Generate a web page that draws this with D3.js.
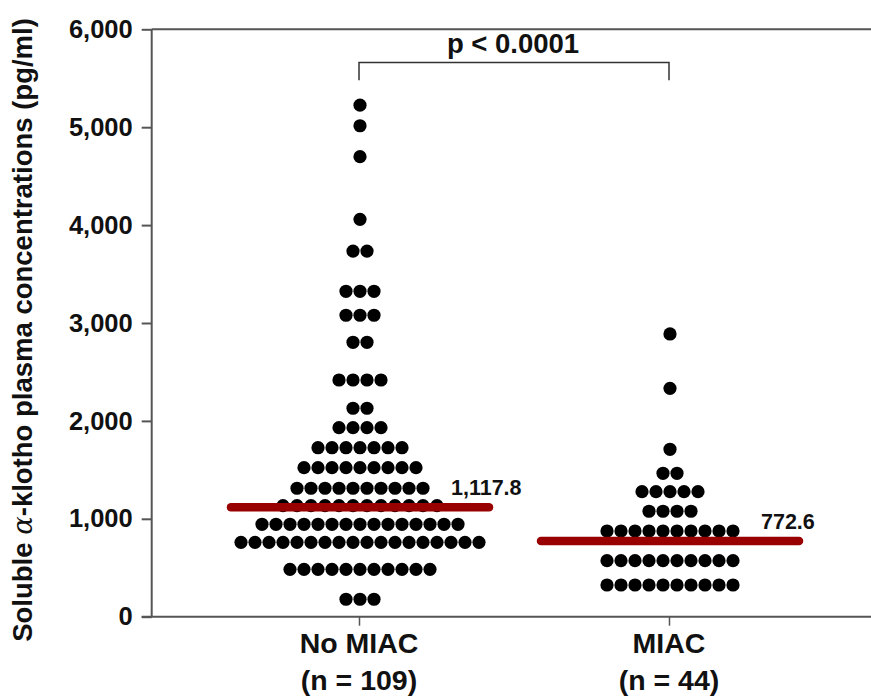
<!DOCTYPE html>
<html>
<head>
<meta charset="utf-8">
<script src="https://cdn.jsdelivr.net/npm/d3@7"></script>
<style>
  html, body { margin: 0; padding: 0; background: #fff; }
  svg { display: block; }
  text { font-family: "Liberation Sans", Arial, Helvetica, sans-serif; font-weight: bold; fill: #111; }
</style>
</head>
<body>
<svg id="chart" width="871" height="700"></svg>
<script>
// ---- Data ----
const categories = ["No MIAC", "MIAC"];
const categoryN = ["(n = 109)", "(n = 44)"];
const yTicks = [0, 1000, 2000, 3000, 4000, 5000, 6000];
const noMiacValues = [
  5225, 5015, 4699, 4059,
  3735, 3735,
  3324, 3324, 3324,
  3079, 3079, 3079,
  2803, 2803,
  2418, 2418, 2418, 2418,
  2129, 2129,
  1931, 1931, 1931, 1931,
  1726, 1726, 1726, 1726, 1726, 1726, 1726,
  1522, 1522, 1522, 1522, 1522, 1522, 1522, 1522, 1522,
  1312, 1312, 1312, 1312, 1312, 1312, 1312, 1312, 1312, 1312,
  1134, 1134, 1134, 1134, 1134, 1134, 1134, 1134, 1134, 1134, 1134, 1134,
  944, 944, 944, 944, 944, 944, 944, 944, 944, 944, 944, 944, 944, 944, 944,
  760, 760, 760, 760, 760, 760, 760, 760, 760, 760, 760, 760, 760, 760, 760, 760, 760, 760,
  484, 484, 484, 484, 484, 484, 484, 484, 484, 484, 484,
  178, 178, 178
];
const miacValues = [
  2888, 2333, 1710,
  1465, 1465,
  1277, 1277, 1277, 1277, 1277,
  1077, 1077, 1077, 1077,
  875, 875, 875, 875, 875, 875, 875, 875, 875, 875,
  572, 572, 572, 572, 572, 572, 572, 572, 572, 572,
  324, 324, 324, 324, 324, 324, 324, 324, 324, 324
];
const means = [1117.8, 772.6];
const meanLabels = ["1,117.8", "772.6"];
const pLabel = "p < 0.0001";
const bracketValues = [5660, 5480]; // bracket top / leg bottom (data units)

// ---- Layout ----
const W = 871, H = 700;
const axisX = 151.7, yTop = 29.3, yBottom = 616.7;
const svg = d3.select("#chart");
const axisColor = "#555";

const y = d3.scaleLinear().domain([0, 6000]).range([yBottom, yTop]);
const x = d3.scalePoint().domain(categories).range([360, 670]).padding(0);

const dotStep = 14, dotR = 6.6;
const meanHalf = 129; // half-length of mean bar (pixels)

// ---- Dots (column dot plot) ----
const groups = [noMiacValues, miacValues];
const dots = [];
groups.forEach((vals, gi) => {
  const byVal = d3.group(vals, v => v);
  byVal.forEach((arr, v) => {
    const n = arr.length;
    arr.forEach((_, i) => {
      dots.push({ cat: categories[gi], v, off: (i - (n - 1) / 2) * dotStep });
    });
  });
});
svg.append("g").selectAll("circle").data(dots).join("circle")
  .attr("cx", d => x(d.cat) + d.off)
  .attr("cy", d => y(d.v))
  .attr("r", dotR)
  .attr("fill", "#000");

// ---- Mean bars ----
const meanG = svg.append("g");
categories.forEach((c, i) => {
  meanG.append("line")
    .attr("x1", x(c) - meanHalf).attr("x2", x(c) + meanHalf)
    .attr("y1", y(means[i])).attr("y2", y(means[i]))
    .attr("stroke", "#990000").attr("stroke-width", 8.5)
    .attr("stroke-linecap", "round");
  meanG.append("text")
    .attr("x", x(c) + meanHalf + 3 - 41)
    .attr("y", y(means[i]) - 12)
    .attr("font-size", 21.5)
    .text(meanLabels[i]);
});

// ---- Y axis ----
const yAxis = d3.axisLeft(y).tickValues(yTicks).tickFormat(d3.format(",")).tickSize(10).tickPadding(9);
const yg = svg.append("g").attr("transform", `translate(${axisX},0)`).call(yAxis);
yg.select(".domain").remove();
yg.selectAll(".tick line").attr("stroke", axisColor).attr("stroke-width", 2);
yg.selectAll(".tick text")
  .attr("font-size", 25.5).attr("font-family", "'Liberation Sans', Arial, sans-serif")
  .attr("font-weight", "bold").attr("fill", "#111");
svg.append("line").attr("x1", axisX).attr("x2", axisX).attr("y1", yTop).attr("y2", yBottom)
  .attr("stroke", axisColor).attr("stroke-width", 2);
// top frame line
svg.append("line").attr("x1", axisX).attr("x2", W).attr("y1", yTop).attr("y2", yTop)
  .attr("stroke", axisColor).attr("stroke-width", 2);

// ---- X axis ----
const xAxis = d3.axisBottom(x).tickSize(9).tickFormat("");
const xg = svg.append("g").attr("transform", `translate(-1,${yBottom})`).call(xAxis);
xg.select(".domain").remove();
xg.selectAll(".tick line").attr("stroke", axisColor).attr("stroke-width", 1.5);
svg.append("line").attr("x1", axisX - 10).attr("x2", W).attr("y1", yBottom).attr("y2", yBottom)
  .attr("stroke", axisColor).attr("stroke-width", 2);

categories.forEach((c, i) => {
  svg.append("text").attr("x", x(c) - 1).attr("y", 653).attr("text-anchor", "middle")
    .attr("font-size", 28.5).text(c);
  svg.append("text").attr("x", x(c) - 1).attr("y", 690).attr("text-anchor", "middle")
    .attr("font-size", 28.5).text(categoryN[i]);
});

// ---- Y axis title ----
const title = svg.append("text")
  .attr("transform", "translate(32,330) rotate(-90)")
  .attr("text-anchor", "middle")
  .attr("font-size", 27.5);
title.append("tspan").text("Soluble ");
title.append("tspan").attr("font-family", "'DejaVu Serif', serif").attr("font-style", "italic").attr("font-weight", "normal").text("α");
title.append("tspan").text("-klotho plasma concentrations (pg/ml)");

// ---- Significance bracket ----
const x1 = x(categories[0]) - 1, x2 = x(categories[1]) - 1;
svg.append("path")
  .attr("d", `M${x1},${y(bracketValues[1])}V${y(bracketValues[0])}H${x2}V${y(bracketValues[1])}`)
  .attr("fill", "none").attr("stroke", "#333").attr("stroke-width", 1.5);
svg.append("text").attr("x", (x1 + x2) / 2 - 1).attr("y", 53).attr("text-anchor", "middle")
  .attr("font-size", 27.5).text(pLabel);
</script>
</body>
</html>
